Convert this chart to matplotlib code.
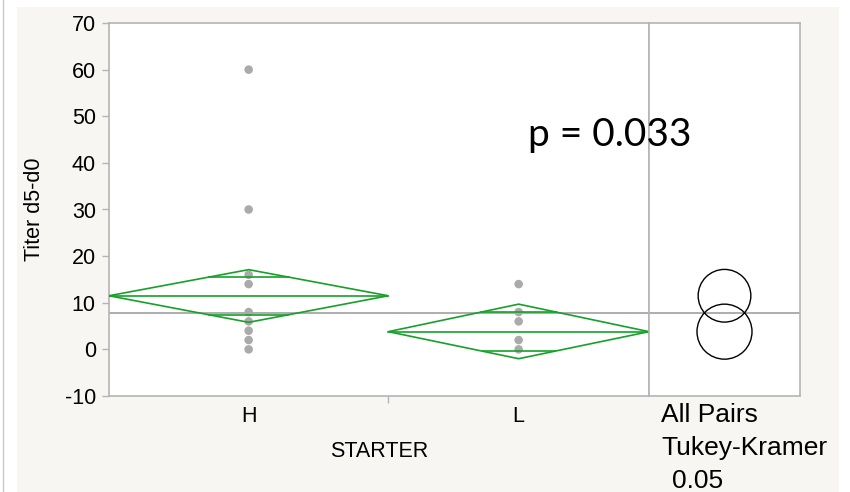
import numpy as np
import matplotlib
matplotlib.use("Agg")
import matplotlib.pyplot as plt
from matplotlib.patches import Polygon, Ellipse, Rectangle
from matplotlib.lines import Line2D

# ---------------- data ----------------
groups = ["H", "L"]
group_n = [15, 14]
h_points = [60, 30, 16, 14, 8, 6, 4, 2, 0]
l_points = [14, 8, 6, 2, 0]
group_means = [11.5, 3.8]
ci_lower = [5.8, -2.0]
ci_upper = [17.1, 9.7]
overlap_hi = [15.5, 8.0]
overlap_lo = [7.4, -0.4]
grand_mean = 7.7
tukey_radius = [5.65, 5.9]
y_ticks = [-10, 0, 10, 20, 30, 40, 50, 60, 70]
p_text = "p = 0.033"

# ---------------- layout ----------------
W, H = 850, 492
fig = plt.figure(figsize=(W / 100, H / 100), dpi=100)
fig.patch.set_facecolor("white")

def fr(x0, y0, x1, y1):
    return [x0 / W, 1 - y1 / H, (x1 - x0) / W, (y1 - y0) / H]

bg = Rectangle((17 / W, 0), (839 - 17) / W, 1 - 7 / H, transform=fig.transFigure,
               facecolor="#f7f6f2", edgecolor="none", zorder=-10)
fig.patches.append(bg)
fig.lines.append(Line2D([3 / W, 3 / W], [0, 1], transform=fig.transFigure,
                        color="#c8c8c8", lw=1.0))

GRAY = "#b4b4b4"
GREEN = "#17a02a"
PTC = "#aaaaaa"
FONT = ["Liberation Sans", "DejaVu Sans"]

ax = fig.add_axes(fr(109, 23, 649, 396))
ax2 = fig.add_axes(fr(649, 23, 800, 396), sharey=ax)

for a in (ax, ax2):
    a.set_facecolor("white")
    for s in a.spines.values():
        s.set_color(GRAY)
        s.set_linewidth(1.2)

total = sum(group_n)
ax.set_xlim(0, total)
ax.set_ylim(-10, 70)

point_sets = [h_points, l_points]
starts = np.cumsum([0] + group_n[:-1])
centers = []
for i, g in enumerate(groups):
    x0 = starts[i]
    x1 = x0 + group_n[i]
    xc = (x0 + x1) / 2
    centers.append(xc)
    m, lo, hi = group_means[i], ci_lower[i], ci_upper[i]
    diamond = Polygon([(x0, m), (xc, hi), (x1, m), (xc, lo)], closed=True,
                      fill=False, edgecolor=GREEN, lw=1.2, zorder=4)
    ax.add_patch(diamond)
    ax.plot([x0, x1], [m, m], color=GREEN, lw=1.2, zorder=4)
    half = (x1 - x0) / 2
    for ov in (overlap_hi[i], overlap_lo[i]):
        ext = (ci_upper[i] - m) if ov > m else (m - ci_lower[i])
        w = half * (1 - abs(ov - m) / ext)
        ax.plot([xc - w, xc + w], [ov, ov], color=GREEN, lw=1.2, zorder=4)
    ax.scatter([xc] * len(point_sets[i]), point_sets[i], s=38, color=PTC,
               edgecolors="none", zorder=3)

ax.axhline(grand_mean, color="#a0a0a0", lw=1.2, zorder=2)
ax2.axhline(grand_mean, color="#a0a0a0", lw=1.2, zorder=2)

ax.set_yticks(y_ticks)
ax.set_yticklabels([str(v) for v in y_ticks], fontsize=15.5, family=FONT)
ax.tick_params(axis="y", length=5, width=1, color=GRAY, pad=4.5)

ax.set_xticks(centers)
ax.set_xticklabels(groups, fontsize=15.5, family=FONT)
ax.set_xticks([starts[1]], minor=True)
ax.tick_params(axis="x", which="major", length=0, pad=7)
ax.tick_params(axis="x", which="minor", length=5, width=1, color=GRAY)

ax.set_ylabel("Titer d5-d0", fontsize=15.5, family=FONT, labelpad=14)
ax.set_xlabel("STARTER", fontsize=15.5, family=FONT, labelpad=10)

fig.text(610 / W, 1 - 146 / H, p_text, ha="center", va="baseline",
         fontsize=28, family=["Lato", "DejaVu Sans"])

# Tukey-Kramer circles (round in pixels)
ax2.set_xticks([])
ax2.tick_params(axis="y", left=False, labelleft=False)
ax_h_px = 396 - 23
ax_w_px = 800 - 649
xspan = ax_w_px / ax_h_px * 80
ax2.set_xlim(0, xspan)
for i in range(len(groups)):
    r = tukey_radius[i]
    ax2.add_patch(Ellipse((xspan / 2, group_means[i]), 2 * r, 2 * r, fill=False,
                          edgecolor="black", lw=1.0, zorder=4))

fig.text(661 / W, 1 - 422 / H, "All Pairs", fontsize=19, family=FONT, va="baseline")
fig.text(661 / W, 1 - 455 / H, "Tukey-Kramer", fontsize=19, family=FONT, va="baseline")
fig.text(672 / W, 1 - 488 / H, "0.05", fontsize=19, family=FONT, va="baseline")

fig.savefig("out.png", dpi=100)
